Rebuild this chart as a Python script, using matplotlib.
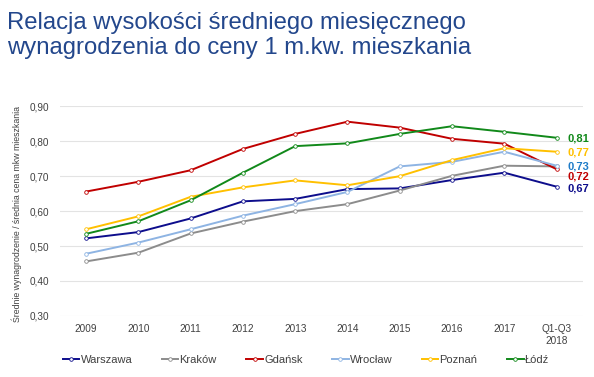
import matplotlib
matplotlib.use("Agg")
import matplotlib.pyplot as plt
from matplotlib.lines import Line2D

plt.rcParams['font.family'] = ['Liberation Sans', 'DejaVu Sans']

categories = ["2009", "2010", "2011", "2012", "2013", "2014", "2015", "2016", "2017", "Q1-Q3\n2018"]
warszawa = [0.522, 0.540, 0.579, 0.628, 0.635, 0.663, 0.665, 0.689, 0.710, 0.67]
krakow   = [0.456, 0.481, 0.536, 0.570, 0.600, 0.620, 0.659, 0.701, 0.730, 0.728]
gdansk   = [0.656, 0.684, 0.717, 0.778, 0.821, 0.856, 0.839, 0.807, 0.793, 0.72]
wroclaw  = [0.478, 0.510, 0.548, 0.587, 0.620, 0.655, 0.728, 0.741, 0.770, 0.73]
poznan   = [0.548, 0.585, 0.641, 0.668, 0.688, 0.674, 0.700, 0.746, 0.780, 0.77]
lodz     = [0.535, 0.571, 0.631, 0.710, 0.786, 0.794, 0.821, 0.843, 0.827, 0.81]

series_names = ["Warszawa", "Kraków", "Gdańsk", "Wrocław", "Poznań", "Łódź"]
series_data = [warszawa, krakow, gdansk, wroclaw, poznan, lodz]
colors = ["#0D0D8C", "#8C8C8C", "#C00000", "#8EB4E3", "#FFC000", "#11891A"]
label_colors = ["#0D0D8C", "#8C8C8C", "#C00000", "#1F7CC8", "#FFC000", "#11891A"]
end_labels = ["0,67", None, "0,72", "0,73", "0,77", "0,81"]
end_label_y = [0.665, None, 0.700, 0.729, 0.767, 0.807]

yticks = [0.30, 0.40, 0.50, 0.60, 0.70, 0.80, 0.90]
ytick_labels = ["0,30", "0,40", "0,50", "0,60", "0,70", "0,80", "0,90"]

fig = plt.figure(figsize=(5.94, 3.77), dpi=100)
ax = fig.add_axes([0.101, 0.162, 0.880, 0.556])

x = list(range(len(categories)))
for name, vals, c in zip(series_names, series_data, colors):
    ax.plot(x, vals, color=c, lw=1.4, marker='o', ms=2.6, mfc='white', mec=c, mew=0.6,
            label=name, zorder=3)

for lab, ly, lc in zip(end_labels, end_label_y, label_colors):
    if lab is None:
        continue
    ax.text(9.2, ly, lab, color=lc, fontsize=8, fontweight='bold', ha='left', va='center',
            clip_on=False)

ax.set_xlim(-0.5, 9.5)
ax.set_ylim(0.30, 0.90)
ax.set_yticks(yticks)
ax.set_yticklabels(ytick_labels)
ax.set_xticks(x)
ax.set_xticklabels(categories)
ax.tick_params(axis='both', length=0, labelsize=7.2, labelcolor='#404040')
ax.tick_params(axis='y', pad=8)
ax.tick_params(axis='x', pad=6)
ax.grid(axis='y', color='#E3E3E3', lw=0.8)
ax.set_axisbelow(True)
for s in ax.spines.values():
    s.set_visible(False)

fig.text(0.029, 0.433, "Średnie wynagrodzenie / średnia cena mkw mieszkania", rotation=90,
         fontsize=6.3, color='#404040', ha='center', va='center')

fig.text(0.012, 0.940, "Relacja wysokości średniego miesięcznego", fontsize=17.2,
         color='#23478C', ha='left', va='center')
fig.text(0.012, 0.874, "wynagrodzenia do ceny 1 m.kw. mieszkania", fontsize=17.2,
         color='#23478C', ha='left', va='center')

handles = [Line2D([0], [0], color=c, lw=1.4, marker='o', ms=2.6, mfc='white', mec=c, mew=0.6)
           for c in colors]
fig.legend(handles, series_names, loc='center', bbox_to_anchor=(0.515, 0.045), ncol=6,
           frameon=False, fontsize=8, handlelength=1.5, handletextpad=0.1,
           columnspacing=2.65, labelcolor='#404040')

fig.savefig("out.png", dpi=100)
